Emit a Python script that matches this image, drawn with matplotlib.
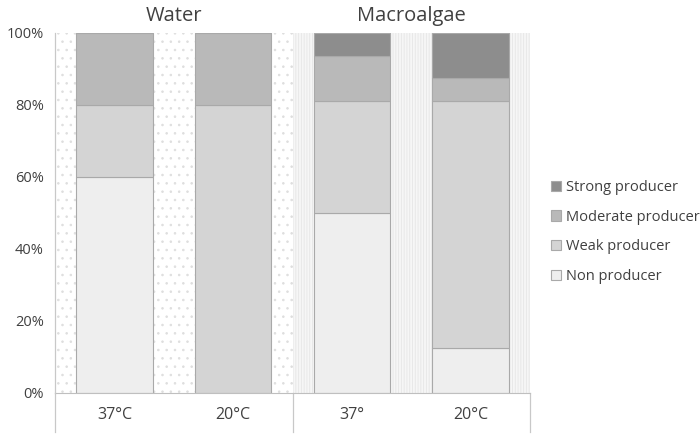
import matplotlib
matplotlib.use("Agg")
import matplotlib.pyplot as plt
import numpy as np

plt.rcParams['font.family'] = ['Open Sans', 'DejaVu Sans']
plt.rcParams['hatch.linewidth'] = 0.6

categories = ["37°C", "20°C", "37°", "20°C"]
groups = ["Water", "Macroalgae"]
series = ["Non producer", "Weak producer", "Moderate producer", "Strong producer"]
non_producer = [60, 0, 50, 12.5]
weak_producer = [20, 80, 31.25, 68.75]
moderate_producer = [20, 20, 12.5, 6.25]
strong_producer = [0, 0, 6.25, 12.5]
y_ticks = [0, 20, 40, 60, 80, 100]

colors = ["#eeeeee", "#d4d4d4", "#b9b9b9", "#8d8d8d"]
values = [non_producer, weak_producer, moderate_producer, strong_producer]

fig = plt.figure(figsize=(7, 4.37), dpi=100)
ax = fig.add_axes([55/700, 1-393/437, (530-55)/700, (393-33)/437])

x = np.arange(len(categories))
# background patterns
ax.axvspan(-0.5, 1.5, facecolor='white', edgecolor='#dedede', hatch='..', linewidth=0, zorder=0)
ax.axvspan(1.5, 3.5, facecolor='#f6f6f6', edgecolor='#e6e6e6', hatch='||||||', linewidth=0, zorder=0)

bottom = np.zeros(len(categories))
for name, vals, col in zip(series, values, colors):
    vals = np.array(vals, dtype=float)
    ax.bar(x, vals, 0.645, bottom=bottom, color=col, edgecolor='#a9a9a9',
           linewidth=0.8, label=name, zorder=2)
    bottom += vals

ax.set_xlim(-0.5, 3.5)
ax.set_ylim(0, 100)
ax.set_yticks(y_ticks)
ax.set_yticklabels([f"{t}%" for t in y_ticks], fontsize=10.5, color='#404040')
ax.set_xticks([])
for s in ['top', 'right', 'left']:
    ax.spines[s].set_visible(False)
ax.spines['bottom'].set_color('#bfbfbf')
ax.spines['bottom'].set_linewidth(0.8)
ax.tick_params(axis='y', length=0, pad=8)

# category labels and separators
for xi, lab in zip(x, categories):
    ax.text(xi, -6, lab, ha='center', va='center', fontsize=11.5, color='#404040', clip_on=False)
for xs in [-0.5, 1.5, 3.5]:
    ax.plot([xs, xs], [0, -10.8], color='#c8c8c8', linewidth=0.9, clip_on=False)
ax.plot([-0.5, -0.5], [0, 100], color='#c8c8c8', linewidth=0.9, clip_on=False, zorder=3)

# group titles
for gi, g in enumerate(groups):
    ax.text(gi*2 + 0.5, 104.8, g, ha='center', va='center', fontsize=14.5, color='#404040', clip_on=False)

handles, labels = ax.get_legend_handles_labels()
leg = fig.legend(handles[::-1], labels[::-1], loc='center left', bbox_to_anchor=(538/700, 1-232/437),
                 frameon=False, fontsize=10.5, handlelength=0.7, handleheight=0.7,
                 handletextpad=0.3, labelspacing=1.0, labelcolor='#404040')

fig.savefig("out.png", dpi=100)
